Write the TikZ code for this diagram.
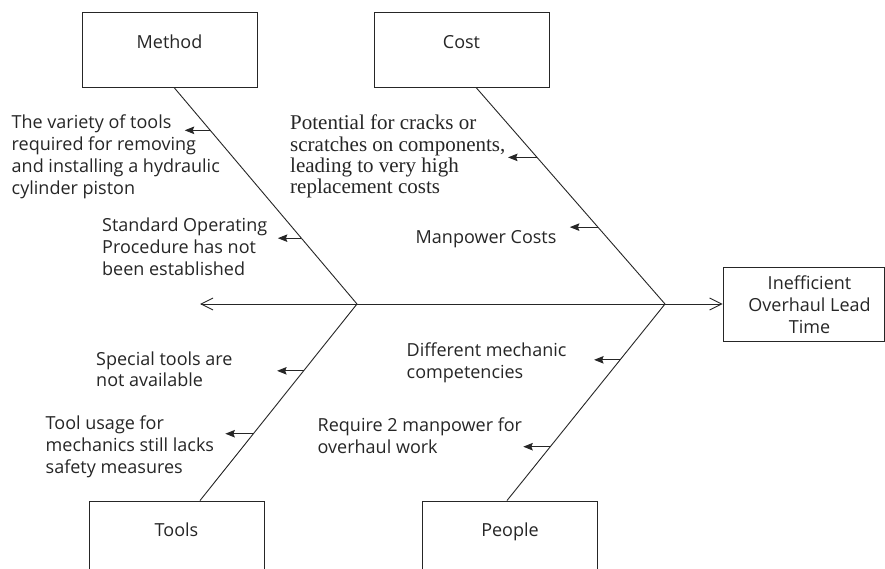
\documentclass[tikz,border=0pt]{standalone}
\usepackage{fontspec}
\setmainfont{Open Sans}
\newfontfamily\serifface{Liberation Serif}
\usetikzlibrary{arrows.meta,calc}
\definecolor{ink}{HTML}{262626}
\tikzset{
  box/.style={draw=ink, line width=0.9pt, minimum width=175pt, minimum height=75pt, inner sep=0pt},
  boxlabel/.style={text=ink, font=\fontsize{18}{22}\selectfont, inner sep=0pt},
  bone/.style={draw=ink, line width=0.9pt},
  cause/.style={draw=ink, line width=0.9pt, -{Stealth[length=9.5pt,width=7.5pt,inset=1.5pt]}},
  spine/.style={draw=ink, line width=0.9pt, {Straight Barb[length=12pt,width=12pt]}-{Straight Barb[length=12pt,width=12pt]}},
  txt/.style={text=ink, anchor=north west, inner sep=0pt, align=left, font=\fontsize{18}{22}\selectfont},
  stxt/.style={text=ink, anchor=north west, inner sep=0pt, align=left, font=\serifface\fontsize{21}{21.3}\selectfont},
}
\begin{document}
\begin{tikzpicture}[x=1pt,y=-1pt]
\clip (0,0) rectangle (885,569);
\fill[white] (0,0) rectangle (885,569);

% category boxes
\node[box, label={[boxlabel, yshift=7.5pt, text depth=0pt]center:Method}] (method) at (169.5,49.5) {};
\node[box, label={[boxlabel, yshift=7.5pt, text depth=0pt]center:Cost}] (cost) at (461.5,49.5) {};
\node[box, label={[boxlabel, yshift=8.5pt, text depth=0pt]center:Tools}] (tools) at (176.5,538.5) {};
\node[box, label={[boxlabel, yshift=8.5pt, text depth=0pt]center:People}] (people) at (510,538.5) {};
\node[box, minimum width=161pt, minimum height=74pt,
      label={[boxlabel, align=center, xshift=6pt, yshift=-1pt]center:Inefficient\\Overhaul Lead\\Time}] (effect) at (803.5,304) {};

% junctions and spine
\coordinate (j1) at (357,304);
\coordinate (j2) at (665,304);
\coordinate (tail) at (200,304);
\draw[spine] (tail) -- (effect.west);

% bones
\draw[bone] ($(method.south)+(4.5,0)$) coordinate (mb) -- (j1);
\draw[bone] ($(cost.south)+(14.5,0)$) coordinate (cb) -- (j2);
\draw[bone] (j1) -- ($(tools.north)+(23.5,0)$) coordinate (tb);
\draw[bone] (j2) -- ($(people.north)+(-3,0)$) coordinate (pb);

% points on bones
\path (mb) -- (j1) coordinate[pos=0.198] (m1) coordinate[pos=0.696] (m2);
\path (cb) -- (j2) coordinate[pos=0.323] (c1) coordinate[pos=0.645] (c2);
\path (j1) -- (tb) coordinate[pos=0.340] (t1) coordinate[pos=0.660] (t2);
\path (j2) -- (pb) coordinate[pos=0.284] (p1) coordinate[pos=0.726] (p2);

% cause arrows
\draw[cause] (m1) -- ++(-25.5,0);
\draw[cause] (m2) -- ++(-23.5,0);
\draw[cause] (c1) -- ++(-29,0);
\draw[cause] (c2) -- ++(-28,0);
\draw[cause] (t1) -- ++(-26.5,0);
\draw[cause] (t2) -- ++(-28,0);
\draw[cause] (p1) -- ++(-26,0);
\draw[cause] (p2) -- ++(-27,0);

% cause texts
\node[txt] (tm1) at (11.5,115) {The variety of tools\\required for removing\\and installing a hydraulic\\cylinder piston};
\node[txt] (tm2) at (102,218) {Standard Operating\\Procedure has not\\been established};
\node[stxt] (tc1) at (290,115) {Potential for cracks or\\scratches on components,\\leading to very high\\replacement costs};
\node[txt] (tc2) at (415.5,230) {Manpower Costs};
\node[txt, font=\fontsize{18}{21}\selectfont] (tt1) at (96,352) {Special tools are\\not available};
\node[txt] (tt2) at (45.5,416) {Tool usage for\\mechanics still lacks\\safety measures};
\node[txt] (tp1) at (406.5,343) {Different mechanic\\competencies};
\node[txt] (tp2) at (317.5,418) {Require 2 manpower for\\overhaul work};
\end{tikzpicture}
\end{document}
